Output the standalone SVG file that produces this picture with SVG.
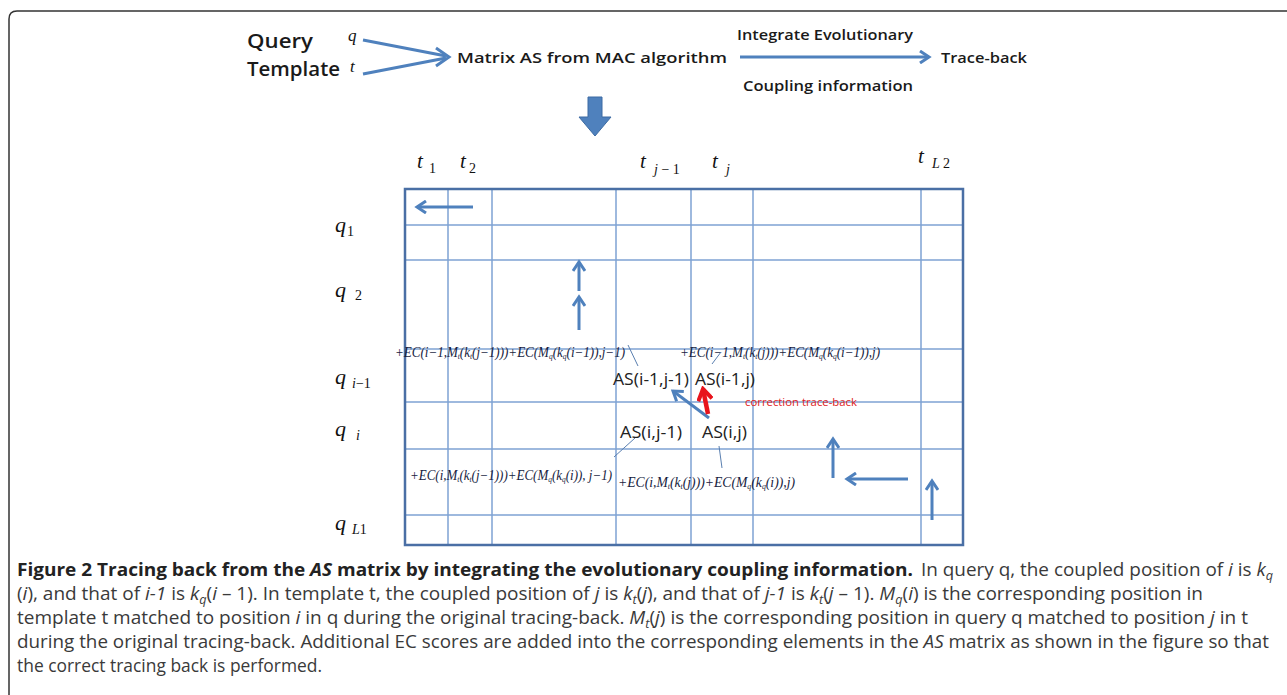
<svg xmlns="http://www.w3.org/2000/svg" width="1287" height="695" viewBox="0 0 1287 695">
<style>
.hd{font-family:"Open Sans","Liberation Sans",sans-serif;font-weight:600;fill:#1a1a1a}
.mi{font-family:"Liberation Serif",serif;font-style:italic;fill:#111}
.sb{font-family:"Liberation Serif",serif;font-style:normal;fill:#111}
.fx{font-family:"Liberation Serif",serif;font-style:italic;font-size:14px;fill:#161c40}
.as{font-family:"Open Sans","Liberation Sans",sans-serif;font-size:17px;fill:#222}
.cap{font-family:"Open Sans","Liberation Sans",sans-serif;font-size:18px;fill:#3a3a3a}
.capb{font-family:"Open Sans","Liberation Sans",sans-serif;font-size:18px;font-weight:700;fill:#222}
.gi{stroke:#7fa3d3;stroke-width:1.5;fill:none}
.go{stroke:#4a6fa5;stroke-width:2.5;fill:none}
.ba{stroke:#4f81bd;stroke-width:3;fill:none;marker-end:url(#ah)}
.ld{stroke:#5a7fb0;stroke-width:1;fill:none}
</style>
<defs>
<marker id="ah" viewBox="0 0 14 14" refX="11" refY="7" markerWidth="14" markerHeight="14" orient="auto" markerUnits="userSpaceOnUse">
<path d="M2,1 L11,7 L2,13" fill="none" stroke="#4f81bd" stroke-width="3"/>
</marker>
<marker id="ahr" viewBox="0 0 16 16" refX="13" refY="8" markerWidth="16" markerHeight="16" orient="auto" markerUnits="userSpaceOnUse">
<path d="M2,1 L13,8 L2,15" fill="none" stroke="#e8141c" stroke-width="4"/>
</marker>
</defs>
<rect width="1287" height="695" fill="#fff"/>
<path d="M9,695 V19 Q9,11 17,11 H1287" fill="none" stroke="#333" stroke-width="1.5"/>

<g id="header">
<g id="query"><text class="hd" x="247" y="48" font-size="20" textLength="66" lengthAdjust="spacingAndGlyphs">Query</text><text class="mi" x="348" y="41" font-size="17">q</text></g>
<g id="template"><text class="hd" x="247" y="76" font-size="20" textLength="93" lengthAdjust="spacingAndGlyphs">Template</text><text class="mi" x="350" y="72" font-size="17">t</text></g>
<g id="matrix"><text class="hd" x="457" y="63" font-size="15" textLength="270" lengthAdjust="spacingAndGlyphs">Matrix AS from MAC algorithm</text></g>
<g id="traceback"><text class="hd" x="941" y="63" font-size="15" textLength="86" lengthAdjust="spacingAndGlyphs">Trace-back</text></g>
<g id="integrate"><text class="hd" x="737" y="40" font-size="15" textLength="176" lengthAdjust="spacingAndGlyphs">Integrate Evolutionary</text>
<text class="hd" x="743" y="91" font-size="15" textLength="170" lengthAdjust="spacingAndGlyphs">Coupling information</text></g>
</g>

<g id="connectors">
<path d="M363,40 L446,56" stroke="#4f81bd" stroke-width="3" fill="none"/>
<path d="M363,74 L446,58" stroke="#4f81bd" stroke-width="3" fill="none"/>
<path d="M436,48 L449,57 L436,66" stroke="#4f81bd" stroke-width="3" fill="none"/>
<path class="ba" d="M740,57 H929"/>
<polygon points="588,97 602,97 602,117 611,117 595,136 579,117 588,117" fill="#4f81bd" stroke="#3d6ba3" stroke-width="1"/>
</g>

<g id="matrix-grid">
<path class="gi" d="M448,189V545 M492,189V545 M616,189V545 M691,189V545 M753,189V545 M921,189V545"/>
<path class="gi" d="M405,225H963 M405,260H963 M405,349H963 M405,402H963 M405,449H963 M405,515H963"/>
<rect class="go" x="405" y="189" width="558" height="356"/>
</g>

<g id="col-labels">
<text class="mi" x="417" y="168" font-size="21">t</text><text class="sb" x="429" y="173" font-size="14">1</text>
<text class="mi" x="460" y="168" font-size="21">t</text><text class="sb" x="469" y="173" font-size="14">2</text>
<text class="mi" x="640" y="168" font-size="21">t</text><text class="mi" x="654" y="174" font-size="14">j <tspan class="sb">− 1</tspan></text>
<text class="mi" x="712" y="168" font-size="21">t</text><text class="mi" x="726" y="174" font-size="14">j</text>
<text class="mi" x="918" y="163" font-size="21">t</text><text class="mi" x="932" y="168" font-size="14">L <tspan class="sb">2</tspan></text>
</g>

<g id="row-labels">
<text class="mi" x="335" y="232" font-size="22">q</text><text class="sb" x="347" y="236" font-size="14">1</text>
<text class="mi" x="335" y="297" font-size="22">q</text><text class="sb" x="355" y="300" font-size="14">2</text>
<text class="mi" x="335" y="384" font-size="22">q</text><text class="mi" x="352" y="388" font-size="14">i<tspan class="sb">−1</tspan></text>
<text class="mi" x="335" y="436" font-size="22">q</text><text class="mi" x="356" y="440" font-size="14">i</text>
<text class="mi" x="335" y="530" font-size="22">q</text><text class="mi" x="352" y="534" font-size="14">L<tspan class="sb">1</tspan></text>
</g>

<g id="cells">
<text class="as" x="613" y="385" textLength="76" lengthAdjust="spacingAndGlyphs">AS(i-1,j-1)</text>
<text class="as" x="695" y="385" textLength="60" lengthAdjust="spacingAndGlyphs">AS(i-1,j)</text>
<text class="as" x="620" y="438" textLength="62" lengthAdjust="spacingAndGlyphs">AS(i,j-1)</text>
<text class="as" x="702" y="438" textLength="45" lengthAdjust="spacingAndGlyphs">AS(i,j)</text>
<text x="745" y="406" font-family="'Open Sans','Liberation Sans',sans-serif" font-size="10.5" fill="#e02020" textLength="112" lengthAdjust="spacingAndGlyphs">correction trace-back</text>
</g>

<g id="formulas">
<text class="fx" x="395" y="357" textLength="230" lengthAdjust="spacingAndGlyphs">+EC(i−1,M<tspan dy="2" font-size="8">t</tspan><tspan dy="-2">(k</tspan><tspan dy="2" font-size="8">t</tspan><tspan dy="-2">(j−1)))+EC(M</tspan><tspan dy="2" font-size="8">q</tspan><tspan dy="-2">(k</tspan><tspan dy="2" font-size="8">q</tspan><tspan dy="-2">(i−1)),j−1)</tspan></text>
<text class="fx" x="680" y="357" textLength="200" lengthAdjust="spacingAndGlyphs">+EC(i−1,M<tspan dy="2" font-size="8">t</tspan><tspan dy="-2">(k</tspan><tspan dy="2" font-size="8">t</tspan><tspan dy="-2">(j)))+EC(M</tspan><tspan dy="2" font-size="8">q</tspan><tspan dy="-2">(k</tspan><tspan dy="2" font-size="8">q</tspan><tspan dy="-2">(i−1)),j)</tspan></text>
<text class="fx" x="410" y="480" textLength="202" lengthAdjust="spacingAndGlyphs">+EC(i,M<tspan dy="2" font-size="8">t</tspan><tspan dy="-2">(k</tspan><tspan dy="2" font-size="8">t</tspan><tspan dy="-2">(j−1)))+EC(M</tspan><tspan dy="2" font-size="8">q</tspan><tspan dy="-2">(k</tspan><tspan dy="2" font-size="8">q</tspan><tspan dy="-2">(i)), j−1)</tspan></text>
<text class="fx" x="618" y="487" textLength="177" lengthAdjust="spacingAndGlyphs">+EC(i,M<tspan dy="2" font-size="8">t</tspan><tspan dy="-2">(k</tspan><tspan dy="2" font-size="8">t</tspan><tspan dy="-2">(j)))+EC(M</tspan><tspan dy="2" font-size="8">q</tspan><tspan dy="-2">(k</tspan><tspan dy="2" font-size="8">q</tspan><tspan dy="-2">(i)),j)</tspan></text>
</g>

<g id="trace-arrows">
<path class="ld" d="M638,366 L628,345 M712,364 L721,352 M635,438 L614,457 M719,446 L722,468"/>
<path class="ba" d="M473,207 H417"/>
<path class="ba" d="M579,291 V262"/>
<path class="ba" d="M579,330 V297"/>
<path class="ba" d="M709,418 L673,391"/>
<path d="M708,414 L703,389" stroke="#e8141c" stroke-width="4.5" fill="none" marker-end="url(#ahr)"/>
<path class="ba" d="M833,478 V439"/>
<path class="ba" d="M908,479 H847"/>
<path class="ba" d="M932,520 V481"/>
</g>

<g id="caption">
<text class="capb" x="17" y="576" textLength="896" lengthAdjust="spacingAndGlyphs">Figure 2 Tracing back from the <tspan font-style="italic">AS</tspan> matrix by integrating the evolutionary coupling information.</text>
<text class="cap" x="921" y="576" textLength="352" lengthAdjust="spacingAndGlyphs">In query q, the coupled position of <tspan font-style="italic">i</tspan> is <tspan font-style="italic">k</tspan><tspan dy="4" font-size="12" font-style="italic">q</tspan></text>
<text class="cap" x="17" y="600" textLength="1186" lengthAdjust="spacingAndGlyphs">(<tspan font-style="italic">i</tspan>), and that of <tspan font-style="italic">i-1</tspan> is <tspan font-style="italic">k</tspan><tspan dy="4" font-size="12" font-style="italic">q</tspan><tspan dy="-4">(</tspan><tspan font-style="italic">i</tspan> – 1). In template t, the coupled position of <tspan font-style="italic">j</tspan> is <tspan font-style="italic">k</tspan><tspan dy="4" font-size="12" font-style="italic">t</tspan><tspan dy="-4">(</tspan><tspan font-style="italic">j</tspan>), and that of <tspan font-style="italic">j-1</tspan> is <tspan font-style="italic">k</tspan><tspan dy="4" font-size="12" font-style="italic">t</tspan><tspan dy="-4">(</tspan><tspan font-style="italic">j</tspan> – 1). <tspan font-style="italic">M</tspan><tspan dy="4" font-size="12" font-style="italic">q</tspan><tspan dy="-4">(</tspan><tspan font-style="italic">i</tspan>) is the corresponding position in</text>
<text class="cap" x="17" y="624" textLength="1231" lengthAdjust="spacingAndGlyphs">template t matched to position <tspan font-style="italic">i</tspan> in q during the original tracing-back. <tspan font-style="italic">M</tspan><tspan dy="4" font-size="12" font-style="italic">t</tspan><tspan dy="-4">(</tspan><tspan font-style="italic">j</tspan>) is the corresponding position in query q matched to position <tspan font-style="italic">j</tspan> in t</text>
<text class="cap" x="17" y="648" textLength="1252" lengthAdjust="spacingAndGlyphs">during the original tracing-back. Additional EC scores are added into the corresponding elements in the <tspan font-style="italic">AS</tspan> matrix as shown in the figure so that</text>
<text class="cap" x="17" y="672" textLength="305" lengthAdjust="spacingAndGlyphs">the correct tracing back is performed.</text>
</g>
</svg>
